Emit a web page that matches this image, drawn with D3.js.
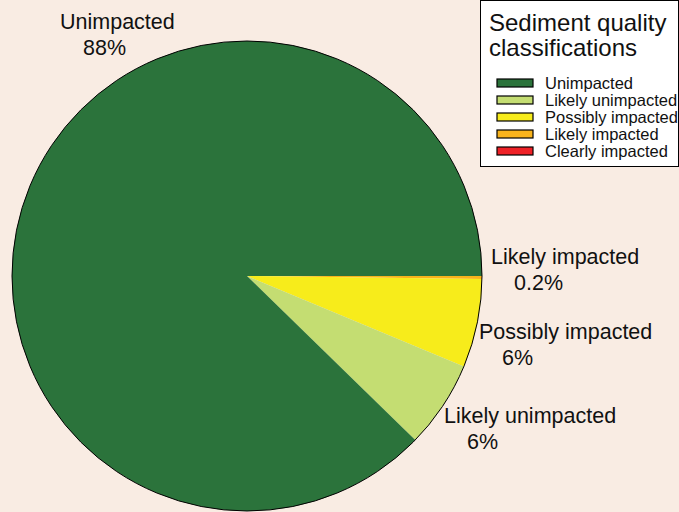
<html>
<head>
<script src="https://d3js.org/d3.v7.min.js"></script>
<style>
 body { margin: 0; background: #f9ece3; }
 text { font-family: "Liberation Sans", Arial, sans-serif; fill: #111; }
</style>
</head>
<body>
<svg id="svg1" width="679" height="512"></svg>
<script>
// data, in legend order
var classes = ["Unimpacted", "Likely unimpacted", "Possibly impacted", "Likely impacted", "Clearly impacted"];
var percents = [87.7, 6.0, 6.1, 0.2, 0];
var pctLabels = ["88%", "6%", "6%", "0.2%", ""];
var colors = ["#2b733b", "#c4dd72", "#f7ec1b", "#f8b31c", "#ee2127"];

var width = 679, height = 512;
var cx = 247, cy = 276, radius = 235;

var svg = d3.select("#svg1");

var color = d3.scaleOrdinal().domain(classes).range(colors);

// slices run clockwise from 3 o'clock, starting with the most impacted class
var rows = classes.map(function(c, i) { return {name: c, value: percents[i], label: pctLabels[i]}; }).reverse();

var pie = d3.pie()
  .value(function(d) { return d.value; })
  .sort(null)
  .startAngle(Math.PI / 2)
  .endAngle(Math.PI / 2 + 2 * Math.PI);

var arc = d3.arc().innerRadius(0).outerRadius(radius);

var g = svg.append("g").attr("transform", "translate(" + cx + "," + cy + ")");

g.selectAll("path.slice")
  .data(pie(rows))
  .enter()
  .append("path")
  .attr("class", "slice")
  .attr("d", arc)
  .attr("fill", function(d) { return color(d.data.name); });

// outline round the pie
g.append("circle")
  .attr("r", radius)
  .attr("fill", "none")
  .attr("stroke", "#000")
  .attr("stroke-width", 1);

// slice labels (offsets from the pie centre)
var labelPos = {
  "Unimpacted": [-187, -247],
  "Likely unimpacted": [197, 147],
  "Possibly impacted": [232, 63],
  "Likely impacted": [244, -12]
};

var lab = g.selectAll("g.lab")
  .data(pie(rows).filter(function(d) { return labelPos[d.data.name]; }))
  .enter()
  .append("g")
  .attr("class", "lab")
  .attr("transform", function(d) { var p = labelPos[d.data.name]; return "translate(" + p[0] + "," + p[1] + ")"; });

lab.append("text")
  .attr("font-size", "21.5px")
  .text(function(d) { return d.data.name; });

lab.append("text")
  .attr("x", 23)
  .attr("y", 26)
  .attr("font-size", "21.5px")
  .text(function(d) { return d.data.label; });

// legend
var leg = svg.append("g").attr("transform", "translate(480,0)");

leg.append("rect")
  .attr("x", 0.5).attr("y", 0.5)
  .attr("width", 198).attr("height", 166)
  .attr("fill", "#fff")
  .attr("stroke", "#000");

leg.append("text").attr("x", 9).attr("y", 31).attr("font-size", "24px").text("Sediment quality");
leg.append("text").attr("x", 9).attr("y", 56).attr("font-size", "24px").text("classifications");

var ly = d3.scaleBand().domain(classes).range([76, 161]);

var item = leg.selectAll("g.item")
  .data(classes)
  .enter()
  .append("g")
  .attr("class", "item")
  .attr("transform", function(d) { return "translate(0," + ly(d) + ")"; });

item.append("rect")
  .attr("x", 17).attr("y", 3)
  .attr("width", 36).attr("height", 8)
  .attr("fill", function(d) { return color(d); })
  .attr("stroke", "#000")
  .attr("stroke-width", 1.2);

item.append("text")
  .attr("x", 65).attr("y", 12.5)
  .attr("font-size", "16.5px")
  .text(function(d) { return d; });
</script>
</body>
</html>
